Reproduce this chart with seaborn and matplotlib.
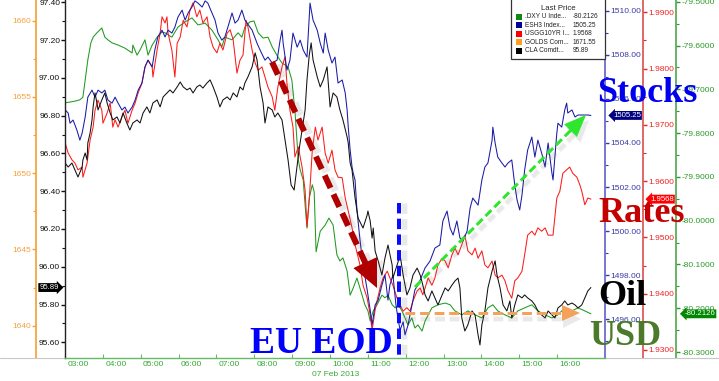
import numpy as np
import matplotlib
matplotlib.use("Agg")
import matplotlib.pyplot as plt
import matplotlib.ticker as mticker
from matplotlib.patches import Polygon, Rectangle
from matplotlib.lines import Line2D
import seaborn as sns

# ---------------- data (time in decimal hours, 07 Feb 2013) ----------------
green_t = [2.66, 2.79, 2.92, 3.05, 3.13, 3.19, 3.26, 3.34, 3.40, 3.50,
           3.63, 3.71, 3.79, 3.90, 4.06, 4.24, 4.43, 4.45, 4.56, 4.64,
           4.77, 4.85, 4.96, 5.09, 5.22, 5.30, 5.48, 5.64, 5.83, 6.01,
           6.17, 6.36, 6.54, 6.70, 6.80, 6.88, 7.07, 7.23, 7.33, 7.41,
           7.54, 7.65, 7.76, 7.89, 8.02, 8.13, 8.28, 8.39, 8.55, 8.65,
           8.73, 8.79, 8.82, 8.87, 8.95, 9.00, 9.05, 9.11, 9.19, 9.24,
           9.29, 9.40, 9.53, 9.63, 9.74, 9.84, 9.92, 10.00, 10.11, 10.19,
           10.27, 10.37, 10.45, 10.58, 10.66, 10.72, 10.80, 10.90, 11.03, 11.11,
           11.19, 11.30, 11.38, 11.46, 11.56, 11.64, 11.72, 11.82, 11.90, 11.98,
           12.09, 12.17, 12.35, 12.51, 12.70, 12.83, 12.96, 13.14, 13.30, 13.49,
           13.67, 13.83, 13.96, 14.09, 14.28, 14.46, 14.62, 14.80, 14.99, 15.15,
           15.34, 15.52, 15.68, 15.86, 16.05, 16.21, 16.39, 16.55]
green_v = [-79.731, -79.729, -79.727, -79.724, -79.718, -79.679, -79.633, -79.594, -79.581, -79.571,
           -79.560, -79.581, -79.587, -79.594, -79.599, -79.606, -79.617, -79.599, -79.622, -79.610,
           -79.587, -79.622, -79.599, -79.581, -79.569, -79.571, -79.581, -79.558, -79.546, -79.537,
           -79.553, -79.549, -79.565, -79.587, -79.603, -79.581, -79.587, -79.571, -79.581, -79.558,
           -79.546, -79.544, -79.571, -79.583, -79.581, -79.603, -79.626, -79.640, -79.649, -79.679,
           -79.747, -79.823, -79.861, -79.884, -79.907, -79.964, -80.017, -79.948, -79.918, -79.934,
           -80.071, -80.024, -80.010, -79.994, -80.010, -80.078, -80.092, -80.085, -80.115, -80.170,
           -80.154, -80.131, -80.154, -80.192, -80.206, -80.229, -80.206, -80.192, -80.170, -80.176,
           -80.170, -80.192, -80.199, -80.192, -80.206, -80.222, -80.238, -80.222, -80.245, -80.238,
           -80.252, -80.229, -80.199, -80.192, -80.188, -80.192, -80.206, -80.215, -80.206, -80.215,
           -80.222, -80.199, -80.192, -80.206, -80.215, -80.222, -80.206, -80.199, -80.192, -80.206,
           -80.215, -80.222, -80.215, -80.199, -80.206, -80.199, -80.206, -80.2126]

blue_t = [2.66, 2.74, 2.79, 2.87, 2.97, 3.05, 3.11, 3.19, 3.26, 3.37,
          3.45, 3.53, 3.63, 3.71, 3.79, 3.90, 3.98, 4.06, 4.16, 4.24,
          4.32, 4.43, 4.51, 4.59, 4.69, 4.77, 4.85, 4.96, 5.03, 5.11,
          5.22, 5.30, 5.38, 5.48, 5.56, 5.64, 5.75, 5.83, 5.91, 6.01,
          6.09, 6.17, 6.28, 6.36, 6.43, 6.54, 6.62, 6.70, 6.80, 6.88,
          6.96, 7.07, 7.15, 7.23, 7.33, 7.41, 7.60, 7.73, 7.81, 7.94,
          8.02, 8.13, 8.26, 8.34, 8.39, 8.42, 8.52, 8.60, 8.68, 8.79,
          8.87, 8.95, 9.05, 9.13, 9.21, 9.32, 9.40, 9.48, 9.53, 9.61,
          9.71, 9.79, 9.87, 9.98, 10.06, 10.11, 10.14, 10.19, 10.24, 10.27,
          10.32, 10.37, 10.45, 10.53, 10.64, 10.72, 10.77, 10.85, 10.93, 11.03,
          11.11, 11.19, 11.24, 11.32, 11.40, 11.46, 11.51, 11.59, 11.64, 11.72,
          11.77, 11.85, 11.90, 11.98, 12.04, 12.17, 12.30, 12.43, 12.56, 12.64,
          12.75, 12.83, 12.91, 13.01, 13.09, 13.17, 13.28, 13.36, 13.43, 13.57,
          13.67, 13.75, 13.83, 13.94, 13.96, 14.02, 14.09, 14.20, 14.28, 14.36,
          14.46, 14.54, 14.60, 14.67, 14.73, 14.80, 14.88, 14.99, 15.07, 15.15,
          15.25, 15.34, 15.42, 15.52, 15.55, 15.65, 15.68, 15.78, 15.86, 15.91,
          15.94, 16.05, 16.13, 16.21, 16.34, 16.47, 16.55]
blue_v = [1505.50, 1505.36, 1504.90, 1505.04, 1504.59, 1504.13, 1504.45, 1505.18, 1506.08, 1506.40,
          1506.08, 1506.40, 1506.27, 1506.40, 1505.95, 1505.81, 1506.08, 1505.81, 1505.50, 1505.63,
          1505.36, 1505.63, 1505.95, 1506.40, 1506.72, 1507.45, 1507.76, 1507.45, 1508.22, 1508.81,
          1509.12, 1508.81, 1509.12, 1508.99, 1509.26, 1509.71, 1510.03, 1509.58, 1509.90, 1510.17,
          1510.45, 1510.35, 1510.17, 1510.45, 1510.35, 1509.90, 1509.58, 1508.99, 1508.67, 1508.81,
          1509.26, 1509.90, 1509.44, 1509.58, 1510.03, 1509.58, 1509.12, 1508.53, 1508.22, 1507.76,
          1507.90, 1507.63, 1507.76, 1508.67, 1509.12, 1508.53, 1507.31, 1507.76, 1508.99, 1508.35,
          1508.67, 1508.22, 1507.90, 1510.35, 1509.58, 1509.12, 1508.53, 1508.08, 1508.99, 1508.22,
          1507.63, 1507.90, 1506.72, 1506.86, 1506.27, 1505.50, 1504.72, 1503.68, 1502.91, 1502.64,
          1502.32, 1500.96, 1499.60, 1498.46, 1497.33, 1496.42, 1495.74, 1496.65, 1496.87, 1497.55,
          1498.01, 1496.87, 1497.55, 1498.01, 1496.65, 1495.97, 1495.51, 1495.88, 1495.29, 1495.74,
          1496.19, 1496.87, 1497.33, 1497.55, 1497.78, 1498.33, 1498.64, 1499.23, 1499.37, 1500.46,
          1500.91, 1500.14, 1499.82, 1500.46, 1499.69, 1499.55, 1500.00, 1501.05, 1501.50, 1501.18,
          1502.32, 1502.91, 1503.09, 1504.13, 1504.72, 1504.00, 1503.36, 1503.09, 1502.91, 1503.09,
          1503.23, 1502.09, 1501.41, 1500.96, 1501.64, 1502.77, 1503.68, 1504.27, 1503.36, 1504.13,
          1503.54, 1502.91, 1504.00, 1502.64, 1502.32, 1504.45, 1504.90, 1504.72, 1505.50, 1505.81,
          1505.36, 1505.50, 1505.18, 1505.27, 1505.27, 1505.27, 1505.25]

red_t = [2.66, 2.74, 2.84, 2.92, 3.00, 3.11, 3.13, 3.24, 3.32, 3.40,
         3.45, 3.53, 3.63, 3.66, 3.77, 3.85, 3.92, 3.98, 4.06, 4.16,
         4.24, 4.32, 4.43, 4.51, 4.59, 4.69, 4.77, 4.85, 4.96, 4.98,
         5.09, 5.17, 5.22, 5.30, 5.35, 5.38, 5.48, 5.56, 5.62, 5.70,
         5.78, 5.88, 5.96, 6.04, 6.14, 6.22, 6.30, 6.41, 6.49, 6.57,
         6.67, 6.75, 6.83, 6.94, 7.02, 7.10, 7.20, 7.28, 7.36, 7.44,
         7.49, 7.60, 7.68, 7.76, 7.86, 7.94, 8.02, 8.13, 8.20, 8.28,
         8.39, 8.47, 8.52, 8.60, 8.68, 8.73, 8.82, 8.92, 9.00, 9.05,
         9.11, 9.19, 9.27, 9.34, 9.45, 9.53, 9.61, 9.71, 9.79, 9.87,
         9.98, 10.06, 10.14, 10.24, 10.32, 10.45, 10.53, 10.64, 10.72, 10.77,
         10.85, 10.90, 10.98, 11.06, 11.17, 11.24, 11.32, 11.43, 11.51, 11.59,
         11.69, 11.77, 11.85, 11.96, 12.04, 12.11, 12.17, 12.25, 12.35, 12.43,
         12.51, 12.62, 12.70, 12.78, 12.88, 12.96, 13.04, 13.14, 13.22, 13.30,
         13.41, 13.49, 13.57, 13.67, 13.75, 13.83, 13.94, 14.02, 14.09, 14.20,
         14.28, 14.36, 14.46, 14.54, 14.62, 14.73, 14.80, 14.88, 14.99, 15.07,
         15.15, 15.25, 15.34, 15.42, 15.55, 15.65, 15.73, 15.81, 15.91, 15.99,
         16.07, 16.18, 16.26, 16.31, 16.39, 16.47, 16.55]
red_v = [1.9668, 1.9650, 1.9638, 1.9632, 1.9620, 1.9625, 1.9607, 1.9632, 1.9673, 1.9696,
         1.9726, 1.9744, 1.9726, 1.9703, 1.9721, 1.9739, 1.9696, 1.9709, 1.9696, 1.9714,
         1.9726, 1.9703, 1.9726, 1.9739, 1.9757, 1.9774, 1.9803, 1.9815, 1.9803, 1.9785,
         1.9833, 1.9863, 1.9892, 1.9881, 1.9892, 1.9863, 1.9833, 1.9785, 1.9845, 1.9856,
         1.9886, 1.9874, 1.9904, 1.9917, 1.9892, 1.9904, 1.9881, 1.9892, 1.9856, 1.9838,
         1.9828, 1.9845, 1.9833, 1.9863, 1.9869, 1.9851, 1.9792, 1.9815, 1.9824, 1.9886,
         1.9874, 1.9833, 1.9810, 1.9797, 1.9803, 1.9785, 1.9767, 1.9750, 1.9726, 1.9767,
         1.9803, 1.9821, 1.9774, 1.9726, 1.9696, 1.9643, 1.9661, 1.9625, 1.9584, 1.9519,
         1.9567, 1.9655, 1.9696, 1.9673, 1.9696, 1.9650, 1.9632, 1.9655, 1.9620, 1.9607,
         1.9606, 1.9570, 1.9547, 1.9517, 1.9487, 1.9451, 1.9415, 1.9392, 1.9362, 1.9335,
         1.9371, 1.9387, 1.9410, 1.9428, 1.9440, 1.9428, 1.9415, 1.9392, 1.9380, 1.9369,
         1.9375, 1.9369, 1.9387, 1.9405, 1.9410, 1.9398, 1.9410, 1.9428, 1.9415, 1.9428,
         1.9451, 1.9463, 1.9458, 1.9446, 1.9469, 1.9481, 1.9469, 1.9487, 1.9504, 1.9476,
         1.9469, 1.9481, 1.9463, 1.9476, 1.9451, 1.9446, 1.9458, 1.9433, 1.9428, 1.9433,
         1.9423, 1.9405, 1.9392, 1.9423, 1.9428, 1.9440, 1.9469, 1.9504, 1.9511, 1.9504,
         1.9517, 1.9511, 1.9517, 1.9504, 1.9504, 1.9570, 1.9582, 1.9614, 1.9620, 1.9625,
         1.9614, 1.9607, 1.9593, 1.9582, 1.9558, 1.9570, 1.9568]

black_t = [2.66, 2.74, 2.84, 2.92, 3.00, 3.11, 3.13, 3.19, 3.24, 3.26,
           3.32, 3.37, 3.40, 3.45, 3.50, 3.53, 3.63, 3.71, 3.77, 3.85,
           3.92, 4.03, 4.11, 4.19, 4.29, 4.37, 4.45, 4.56, 4.64, 4.72,
           4.82, 4.90, 4.98, 5.09, 5.17, 5.25, 5.35, 5.43, 5.51, 5.62,
           5.70, 5.78, 5.88, 5.96, 6.04, 6.14, 6.22, 6.30, 6.41, 6.49,
           6.57, 6.67, 6.75, 6.83, 6.94, 7.02, 7.10, 7.20, 7.28, 7.36,
           7.41, 7.49, 7.60, 7.68, 7.73, 7.81, 7.89, 7.94, 8.02, 8.13,
           8.20, 8.28, 8.39, 8.47, 8.55, 8.63, 8.71, 8.76, 8.84, 8.92,
           9.00, 9.05, 9.11, 9.16, 9.21, 9.32, 9.40, 9.48, 9.58, 9.66,
           9.74, 9.84, 9.92, 10.00, 10.11, 10.14, 10.19, 10.24, 10.32, 10.40,
           10.53, 10.64, 10.66, 10.72, 10.77, 10.80, 10.85, 10.93, 11.03, 11.11,
           11.19, 11.30, 11.32, 11.43, 11.51, 11.59, 11.69, 11.77, 11.85, 11.96,
           12.04, 12.11, 12.17, 12.25, 12.35, 12.43, 12.51, 12.62, 12.70, 12.78,
           12.88, 12.96, 13.04, 13.09, 13.14, 13.22, 13.30, 13.41, 13.49, 13.57,
           13.62, 13.67, 13.75, 13.83, 13.94, 14.02, 14.07, 14.15, 14.23, 14.33,
           14.41, 14.46, 14.54, 14.62, 14.73, 14.80, 14.88, 14.99, 15.07, 15.15,
           15.25, 15.34, 15.42, 15.52, 15.60, 15.68, 15.78, 15.86, 15.94, 16.05,
           16.13, 16.21, 16.31, 16.39, 16.47, 16.55]
black_v = [96.549, 96.528, 96.549, 96.512, 96.475, 96.528, 96.565, 96.602, 96.565, 96.655,
           96.708, 96.777, 96.846, 96.920, 96.867, 96.830, 96.883, 96.920, 96.867, 96.814,
           96.777, 96.793, 96.761, 96.814, 96.761, 96.724, 96.761, 96.777, 96.761, 96.814,
           96.846, 96.814, 96.867, 96.883, 96.846, 96.899, 96.920, 96.936, 96.920, 96.952,
           96.978, 96.952, 96.936, 96.946, 96.920, 96.952, 96.962, 96.946, 96.973, 96.989,
           96.952, 96.899, 96.846, 96.883, 96.899, 96.883, 96.920, 96.899, 96.952, 96.936,
           96.973, 97.005, 97.058, 97.132, 97.095, 96.952, 96.867, 96.761, 96.846, 96.830,
           96.793, 96.814, 96.777, 96.671, 96.565, 96.433, 96.406, 96.486, 96.618, 96.724,
           96.830, 96.989, 97.121, 97.185, 97.095, 97.005, 96.952, 96.989, 97.058, 96.846,
           96.920, 96.899, 96.830, 96.777, 96.687, 96.655, 96.549, 96.512, 96.364, 96.258,
           96.205, 96.274, 96.295, 96.242, 96.152, 96.205, 96.083, 96.031, 95.956, 96.046,
           96.115, 96.009, 95.940, 96.009, 96.062, 95.956, 95.851, 95.888, 95.956, 95.993,
           95.956, 95.903, 95.851, 95.819, 95.872, 95.835, 95.798, 95.851, 95.888, 95.872,
           95.903, 95.925, 95.940, 95.888, 95.729, 95.660, 95.692, 95.766, 95.745, 95.639,
           95.586, 95.692, 95.766, 95.888, 95.978, 96.031, 95.956, 95.888, 95.798, 95.766,
           95.819, 95.729, 95.798, 95.851, 95.835, 95.851, 95.835, 95.819, 95.798, 95.766,
           95.745, 95.729, 95.766, 95.745, 95.729, 95.782, 95.798, 95.819, 95.798, 95.808,
           95.798, 95.782, 95.798, 95.835, 95.872, 95.89]

hour_ticks = list(range(3, 17))
hour_labels = ["%02d:00" % h for h in hour_ticks]
date_label = "07 Feb 2013"

legend_names = [".DXY U Inde...", "ESH3 Index...", "USGG10YR I...", "GOLDS Com...", "CLA Comdt..."]
legend_values = ["-80.2126", "1505.25", "1.9568", "1671.55", "95.89"]
legend_colors = ["#118811", "#000099", "#ff0000", "#ffa020", "#000000"]

# ---------------- style ----------------
sns.set_theme(style="white")
plt.rcParams['font.family'] = ['Liberation Sans', 'DejaVu Sans']
plt.rcParams['lines.scale_dashes'] = False

W, H = 719, 381
fig = plt.figure(figsize=(W / 100, H / 100), dpi=100, facecolor='white')
L, R, T, B = 65, 605, 0, 358
ax = fig.add_axes([L / W, 1 - B / H, (R - L) / W, (B - T) / H])

C_OR, C_BLUE, C_RED, C_GRN = '#f5a23c', '#3a3aa8', '#ee2222', '#2a9a2a'
LINE_G, LINE_B, LINE_R, LINE_K = '#1f9a1f', '#1a1aa6', '#ff1a1a', '#111111'

ax_or = ax.twinx()
ax_g = ax.twinx()
ax_r = ax.twinx()
ax_b = ax.twinx()

# series
sns.lineplot(x=green_t, y=green_v, ax=ax_g, color=LINE_G, linewidth=0.75, sort=False, estimator=None)
sns.lineplot(x=red_t, y=red_v, ax=ax_r, color=LINE_R, linewidth=0.75, sort=False, estimator=None)
sns.lineplot(x=blue_t, y=blue_v, ax=ax_b, color=LINE_B, linewidth=0.75, sort=False, estimator=None)
sns.lineplot(x=black_t, y=black_v, ax=ax, color=LINE_K, linewidth=0.75, sort=False, estimator=None)

ax.set_zorder(1)
ax.patch.set_visible(False)
for a in (ax, ax_or, ax_g, ax_r, ax_b):
    a.set_xlabel('')
    a.set_ylabel('')
    for s in a.spines.values():
        s.set_visible(False)

ax.set_xlim(2.657, 16.923)
ax.set_ylim(95.517, 97.412)
ax_or.set_ylim(1637.88, 1661.36)
ax_b.set_ylim(1494.24, 1510.49)
ax_r.set_ylim(1.92857, 1.99219)
ax_g.set_ylim(-80.3135, -79.4961)

# left black axis
ax.spines['left'].set_visible(True)
ax.spines['left'].set_color('#222222')
ax.spines['left'].set_linewidth(1.0)
ax.yaxis.set_major_locator(mticker.MultipleLocator(0.2))
ax.yaxis.set_minor_locator(mticker.MultipleLocator(0.1))
ax.yaxis.set_major_formatter(mticker.FormatStrFormatter('%.2f'))
ax.tick_params(axis='y', which='major', direction='out', length=3, width=1, colors='#111111', labelsize=6, pad=0.5)
ax.tick_params(axis='y', which='minor', direction='out', length=2, width=0.8, colors='#111111')
ax.yaxis.set_ticks_position('left')

# bottom axis
ax.spines['bottom'].set_visible(True)
ax.spines['bottom'].set_color('#66bb66')
ax.spines['bottom'].set_linewidth(1.0)
ax.set_xticks(hour_ticks)
ax.set_xticklabels(hour_labels)
ax.set_xticks([h - 0.343 for h in hour_ticks], minor=True)
ax.tick_params(axis='x', which='major', length=0, labelsize=6, labelcolor='#33aa33', pad=2.5)
ax.tick_params(axis='x', which='minor', direction='in', length=3, width=0.8, color='#66bb66')
ax.xaxis.set_ticks_position('bottom')
fig.text(336 / W, 1 - 375 / H, date_label, ha='center', va='center', fontsize=6, color='#33aa33')

# orange gold axis (far left)
ax_or.yaxis.set_ticks_position('left')
ax_or.spines['left'].set_visible(True)
ax_or.spines['left'].set_position(('outward', 29 * 0.72))
ax_or.spines['left'].set_color(C_OR)
ax_or.yaxis.set_major_locator(mticker.MultipleLocator(5))
ax_or.yaxis.set_minor_locator(mticker.MultipleLocator(2.5))
ax_or.yaxis.set_major_formatter(mticker.FormatStrFormatter('%d'))
ax_or.tick_params(axis='y', which='major', direction='out', length=3, width=1, colors=C_OR, labelsize=6, pad=0.5)
ax_or.tick_params(axis='y', which='minor', direction='out', length=2, width=0.8, colors=C_OR)

# right axes
def right_axis(a, offset_px, col, major, minor, fmt):
    a.yaxis.set_ticks_position('right')
    a.spines['right'].set_visible(True)
    a.spines['right'].set_position(('outward', offset_px * 0.72))
    a.spines['right'].set_color(col)
    a.yaxis.set_major_locator(mticker.MultipleLocator(major))
    a.yaxis.set_minor_locator(mticker.MultipleLocator(minor))
    a.yaxis.set_major_formatter(mticker.FormatStrFormatter(fmt))
    a.tick_params(axis='y', which='major', direction='out', length=3, width=1, colors=col, labelsize=6, pad=1)
    a.tick_params(axis='y', which='minor', direction='out', length=2, width=0.8, colors=col)

right_axis(ax_b, 0, C_BLUE, 2, 1, '%.2f')
right_axis(ax_r, 38, C_RED, 0.01, 0.005, '%.4f')
right_axis(ax_g, 71, C_GRN, 0.1, 0.05, '%.4f')
ax_b.spines['right'].set_color('#6666cc')
ax_r.spines['right'].set_color('#dd5555')
ax_g.spines['right'].set_color('#55aa55')

# grey base line outside plot
for xa, xb in ((0, 65), (605, 719)):
    fig.add_artist(Line2D([xa / W, xb / W], [1 - 358 / H] * 2, transform=fig.transFigure,
                          color='#c8c8c8', lw=0.8, zorder=0.5))

# ---------------- last-value tags ----------------
def disp_y(a, v):
    return a.transData.transform((a.get_xlim()[0], v))[1] / H

tag_kw = dict(color='white', fontsize=5.6, ha='center', va='center', zorder=7)
fig.text(49 / W, disp_y(ax, black_v[-1]), "%.2f" % black_v[-1],
         bbox=dict(boxstyle='rarrow,pad=0.12', fc='black', ec='none'), **tag_kw)
fig.text(627 / W, disp_y(ax_b, blue_v[-1]), "%.2f" % blue_v[-1],
         bbox=dict(boxstyle='larrow,pad=0.12', fc='#000080', ec='none'), **tag_kw)
fig.text(662 / W, disp_y(ax_r, red_v[-1]), "%.4f" % red_v[-1],
         bbox=dict(boxstyle='larrow,pad=0.12', fc='#ff0000', ec='none'), **tag_kw)
fig.text(700 / W, disp_y(ax_g, green_v[-1]), "%.4f" % green_v[-1],
         bbox=dict(boxstyle='larrow,pad=0.12', fc='#008800', ec='none'), **tag_kw)

# ---------------- legend ----------------
fig.add_artist(Rectangle((511 / W, 1 - 59 / H), 94 / W, 62 / H, transform=fig.transFigure,
                         fc='white', ec='#333333', lw=0.9, zorder=5))
fig.text(558 / W, 1 - 8 / H, "Last Price", ha='center', va='center', fontsize=5.6, color='#222222', zorder=6)
for i, (nm, val, col) in enumerate(zip(legend_names, legend_values, legend_colors)):
    yy = 16.5 + i * 8.6
    fig.add_artist(Rectangle((516 / W, 1 - (yy + 3) / H), 6 / W, 6 / H, transform=fig.transFigure,
                             fc=col, ec='none', zorder=6))
    fig.text(525 / W, 1 - yy / H, nm, ha='left', va='center', fontsize=4.7, color='#222222', zorder=6)
    fig.text(573 / W, 1 - yy / H, val, ha='left', va='center', fontsize=4.7, color='#222222', zorder=6)

# ---------------- annotations ----------------
def fp(x, y):
    return x / W, 1 - y / H

def draw_seg(p0, p1, color, lw_px, dash, z, alpha=1.0):
    (a0, b0), (a1, b1) = fp(*p0), fp(*p1)
    fig.add_artist(Line2D([a0, a1], [b0, b1], transform=fig.transFigure, color=color,
                          lw=lw_px * 0.72, linestyle=(0, dash), alpha=alpha, zorder=z,
                          solid_capstyle='butt', dash_capstyle='butt'))

def draw_head(tip, ux, uy, hl, hw, color, z, alpha=1.0, off=(0, 0)):
    bx, by = tip[0] - ux * hl, tip[1] - uy * hl
    px, py = -uy, ux
    pts = [fp(tip[0] + off[0], tip[1] + off[1]),
           fp(bx + px * hw + off[0], by + py * hw + off[1]),
           fp(bx - px * hw + off[0], by - py * hw + off[1])]
    fig.add_artist(Polygon(pts, closed=True, transform=fig.transFigure, fc=color, ec='none',
                           alpha=alpha, zorder=z))

def arrow(p0, tip, color, lw_px, dash, hl=0, hw=0, shadow=(4, 4)):
    dx, dy = tip[0] - p0[0], tip[1] - p0[1]
    n = np.hypot(dx, dy)
    ux, uy = dx / n, dy / n
    end = (tip[0] - ux * hl * 0.9, tip[1] - uy * hl * 0.9) if hl else tip
    sx, sy = shadow
    for extra, al in ((3, 0.06), (1, 0.09)):
        draw_seg((p0[0] + sx, p0[1] + sy), (end[0] + sx, end[1] + sy), '#666666', lw_px + extra, dash, 4, al)
        if hl:
            draw_head(tip, ux, uy, hl, hw + extra / 2, '#666666', 4, al, off=(sx, sy))
    draw_seg(p0, end, color, lw_px, dash, 4.5)
    if hl:
        draw_head(tip, ux, uy, hl, hw, color, 4.5)

# EU close vertical marker
arrow((399, 203), (399, 358), '#0a0aff', 4, (7.5, 3.8), shadow=(5, 0))
# Europe sell-off arrow
arrow((272, 62), (377, 288), '#b00000', 6, (10, 5), hl=28, hw=13, shadow=(5, 3))
# stocks rally arrow
arrow((415, 287), (586, 115), '#2ee62e', 3, (6, 3), hl=22, hw=9, shadow=(3, 5))
# flat USD arrow
arrow((405, 313), (580, 313), '#f4a25a', 3, (7, 3.5), hl=18, hw=8, shadow=(1, 6))

# ---------------- big labels ----------------
serif = ['Liberation Serif', 'DejaVu Serif']
fig.text(597 / W, 1 - 102 / H, "Stocks", ha='left', va='baseline', fontsize=26, fontweight='bold',
         family=serif, color='#0000ee', zorder=8)
fig.text(598 / W, 1 - 222 / H, "Rates", ha='left', va='baseline', fontsize=26, fontweight='bold',
         family=serif, color='#c40000', zorder=8)
fig.text(598 / W, 1 - 305 / H, "Oil", ha='left', va='baseline', fontsize=26, fontweight='bold',
         family=serif, color='#000000', zorder=8)
fig.text(589 / W, 1 - 345 / H, "USD", ha='left', va='baseline', fontsize=26, fontweight='bold',
         family=serif, color='#4a7a2a', zorder=8)
fig.text(250 / W, 1 - 353 / H, "EU EOD", ha='left', va='baseline', fontsize=27, fontweight='bold',
         family=serif, color='#0000ff', zorder=8)

fig.savefig('out.png', dpi=100, facecolor='white')
